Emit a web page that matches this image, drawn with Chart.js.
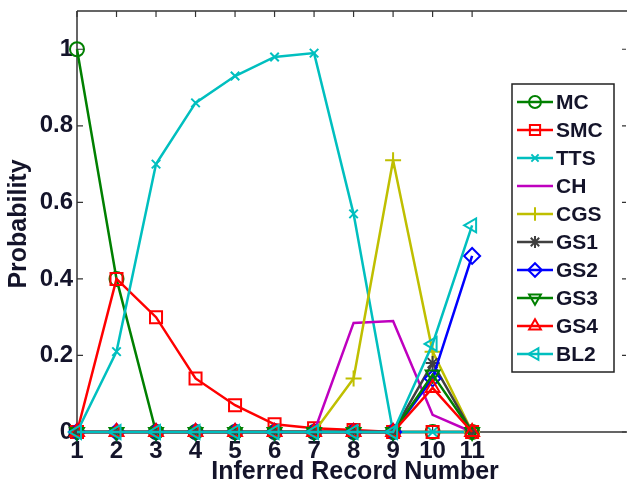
<!DOCTYPE html>
<html>
<head>
<meta charset="utf-8">
<script src="https://cdn.jsdelivr.net/npm/chart.js@4.4.0/dist/chart.umd.min.js"></script>
<style>
  html, body { margin: 0; padding: 0; background: #fff; }
  #wrap { width: 627px; height: 486px; }
</style>
</head>
<body>
<div id="wrap"><canvas id="probChart" width="627" height="486"></canvas></div>
<script>
// Veriler
const recordNumbers = [1, 2, 3, 4, 5, 6, 7, 8, 9, 10, 11];
const xTickValues = [1, 2, 3, 4, 5, 6, 7, 8, 9, 10, 11];
const yTickValues = [0, 0.2, 0.4, 0.6, 0.8, 1];
const yTickLabels = ['0', '0.2', '0.4', '0.6', '0.8', '1'];

const seriesNames = ['MC', 'SMC', 'TTS', 'CH', 'CGS', 'GS1', 'GS2', 'GS3', 'GS4', 'BL2'];
const mcValues  = [1, 0.4, 0, 0, 0, 0, 0, 0, 0, 0, 0];
const smcValues = [0, 0.4, 0.3, 0.14, 0.07, 0.02, 0.01, 0.005, 0, 0, 0];
const ttsValues = [0, 0.21, 0.7, 0.86, 0.93, 0.98, 0.99, 0.57, 0, 0, 0];
const chValues  = [0, 0, 0, 0, 0, 0, 0, 0.285, 0.29, 0.045, 0];
const cgsValues = [0, 0, 0, 0, 0, 0, 0, 0.14, 0.71, 0.21, 0];
const gs1Values = [0, 0, 0, 0, 0, 0, 0, 0, 0, 0.18, 0];
const gs2Values = [0, 0, 0, 0, 0, 0, 0, 0, 0, 0.14, 0.46];
const gs3Values = [0, 0, 0, 0, 0, 0, 0, 0, 0, 0.15, 0];
const gs4Values = [0, 0, 0, 0, 0, 0, 0, 0, 0, 0.115, 0];
const bl2Values = [0, 0, 0, 0, 0, 0, 0, 0, 0, 0.23, 0.54];

const allValues = [mcValues, smcValues, ttsValues, chValues, cgsValues,
                   gs1Values, gs2Values, gs3Values, gs4Values, bl2Values];

// Stil (MATLAB renkleri)
const seriesStyles = [
    { color: '#008000', pointStyle: 'circle',   radius: 7,   rotation: 0 },
    { color: '#ff0000', pointStyle: 'rect',     radius: 8.5, rotation: 0 },
    { color: '#00bfbf', pointStyle: 'crossRot', radius: 6,   rotation: 0 },
    { color: '#bf00bf', pointStyle: false,      radius: 0,   rotation: 0 },
    { color: '#bfbf00', pointStyle: 'cross',    radius: 8,   rotation: 0 },
    { color: '#404040', pointStyle: 'star',     radius: 7,   rotation: 0 },
    { color: '#0000ff', pointStyle: 'rectRot',  radius: 8,   rotation: 0 },
    { color: '#008000', pointStyle: 'triangle', radius: 8,   rotation: 180 },
    { color: '#ff0000', pointStyle: 'triangle', radius: 8,   rotation: 0 },
    { color: '#00bfbf', pointStyle: 'triangle', radius: 8,   rotation: -90 }
];

const FONT = '"Liberation Sans", Arial, sans-serif';
const TEXT_COLOR = '#14142a';

// Veri setlerini oluştur
const datasets = seriesNames.map((name, i) => {
    const st = seriesStyles[i];
    return {
        label: name,
        data: recordNumbers.map((x, j) => ({ x: x, y: allValues[i][j] })),
        borderColor: st.color,
        backgroundColor: 'rgba(0,0,0,0)',
        borderWidth: 2.5,
        pointStyle: st.pointStyle || 'circle',
        pointRadius: st.radius,
        pointRotation: st.rotation,
        pointBorderColor: st.color,
        pointBackgroundColor: 'rgba(0,0,0,0)',
        pointBorderWidth: 2,
        tension: 0,
        clip: false,
        order: 10 - i
    };
});

// Eksen çerçevesi ve içe doğru tikler
const axesPlugin = {
    id: 'matlabAxes',
    beforeDatasetsDraw(chart) {
        const { ctx, chartArea, scales } = chart;
        const { left, top, right, bottom } = chartArea;
        ctx.save();
        ctx.strokeStyle = '#333';
        ctx.lineWidth = 1.5;
        ctx.beginPath();
        ctx.moveTo(left, top);
        ctx.lineTo(right + 2, top);
        ctx.moveTo(left, top);
        ctx.lineTo(left, bottom);
        ctx.lineTo(right + 2, bottom);
        ctx.stroke();

        ctx.lineWidth = 1.2;
        ctx.beginPath();
        xTickValues.forEach(v => {
            const px = scales.x.getPixelForValue(v);
            ctx.moveTo(px, top);
            ctx.lineTo(px, top + 6);
            ctx.moveTo(px, bottom);
            ctx.lineTo(px, bottom - 6);
        });
        yTickValues.forEach(v => {
            const py = scales.y.getPixelForValue(v);
            ctx.moveTo(left, py);
            ctx.lineTo(left + 6, py);
            ctx.moveTo(right - 1, py);
            ctx.lineTo(right - 5, py);
        });
        ctx.stroke();
        ctx.restore();
    },
    afterDraw(chart) {
        const { ctx } = chart;
        ctx.save();

        // Eksen başlıkları
        ctx.fillStyle = TEXT_COLOR;
        ctx.font = 'bold 25px ' + FONT;
        ctx.textAlign = 'center';
        ctx.textBaseline = 'middle';
        ctx.fillText('Inferred Record Number', 355, 472);

        ctx.translate(19, 224);
        ctx.rotate(-Math.PI / 2);
        ctx.fillText('Probability', 0, 0);
        ctx.setTransform(1, 0, 0, 1, 0, 0);

        // Lejant
        const boxL = 512, boxT = 84, boxR = 614, boxB = 372;
        ctx.fillStyle = '#fff';
        ctx.fillRect(boxL, boxT, boxR - boxL, boxB - boxT);
        ctx.strokeStyle = '#222';
        ctx.lineWidth = 1.5;
        ctx.strokeRect(boxL, boxT, boxR - boxL, boxB - boxT);

        seriesNames.forEach((name, i) => {
            const st = seriesStyles[i];
            const y = 102 + i * 28;
            ctx.strokeStyle = st.color;
            ctx.lineWidth = 2.5;
            ctx.beginPath();
            ctx.moveTo(517, y);
            ctx.lineTo(553, y);
            ctx.stroke();
            if (st.pointStyle && Chart.helpers && Chart.helpers.drawPoint) {
                ctx.fillStyle = 'rgba(0,0,0,0)';
                ctx.lineWidth = 2;
                Chart.helpers.drawPoint(ctx, {
                    pointStyle: st.pointStyle,
                    radius: st.radius * 0.85,
                    rotation: st.rotation,
                    borderWidth: 2
                }, 535, y);
            }
            ctx.fillStyle = TEXT_COLOR;
            ctx.font = 'bold 21px ' + FONT;
            ctx.textAlign = 'left';
            ctx.textBaseline = 'middle';
            ctx.fillText(name, 556, y + 1);
        });
        ctx.restore();
    }
};

new Chart(document.getElementById('probChart').getContext('2d'), {
    type: 'line',
    data: { datasets },
    options: {
        responsive: false,
        animation: false,
        layout: { autoPadding: false, padding: { top: 11, right: 0, left: 0, bottom: 0 } },
        plugins: {
            legend: { display: false },
            tooltip: { enabled: false }
        },
        scales: {
            x: {
                type: 'linear',
                min: 1,
                max: 14.92,
                afterBuildTicks: (scale) => {
                    scale.ticks = xTickValues.map(v => ({ value: v }));
                },
                afterFit: (scale) => {
                    scale.height = 54;
                    scale.paddingLeft = 0;
                    scale.paddingRight = 0;
                },
                grid: { display: false, drawTicks: false, tickLength: 0 },
                border: { display: false },
                ticks: {
                    autoSkip: false,
                    maxRotation: 0,
                    padding: 5,
                    color: TEXT_COLOR,
                    font: { family: FONT, size: 24, weight: 'bold' },
                    callback: (v) => String(v)
                }
            },
            y: {
                type: 'linear',
                min: 0,
                max: 1.1,
                afterBuildTicks: (scale) => {
                    scale.ticks = yTickValues.map(v => ({ value: v }));
                },
                afterFit: (scale) => {
                    scale.width = 77;
                    scale.paddingTop = 0;
                    scale.paddingBottom = 0;
                },
                grid: { display: false, drawTicks: false, tickLength: 0 },
                border: { display: false },
                ticks: {
                    padding: 4,
                    color: TEXT_COLOR,
                    font: { family: FONT, size: 24, weight: 'bold' },
                    callback: (v) => yTickLabels[yTickValues.indexOf(v)]
                }
            }
        }
    },
    plugins: [axesPlugin]
});
</script>
</body>
</html>
